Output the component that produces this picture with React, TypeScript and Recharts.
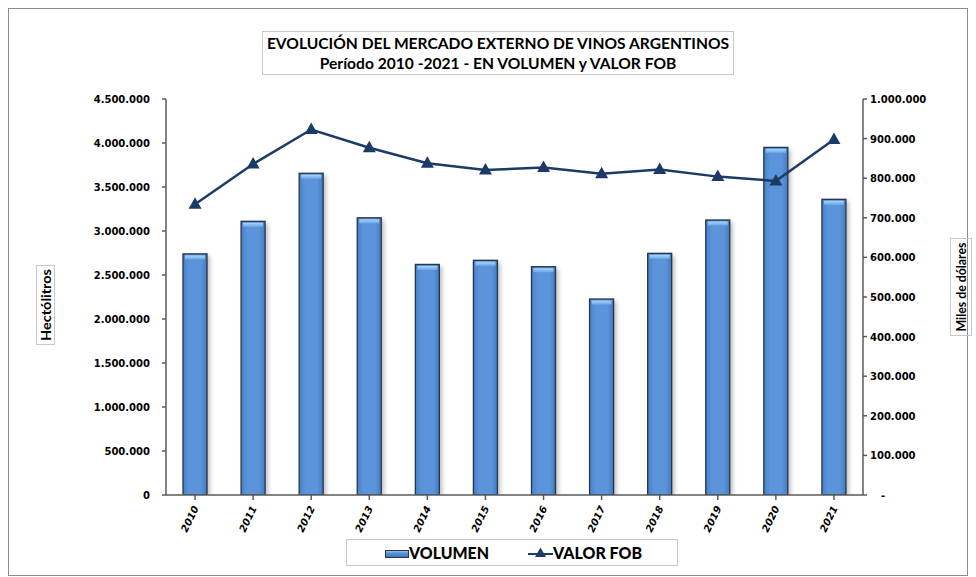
import React from 'react';
import { ComposedChart, Bar, Line, XAxis, YAxis } from 'recharts';

const years = ['2010', '2011', '2012', '2013', '2014', '2015', '2016', '2017', '2018', '2019', '2020', '2021'];
const volumen = [2740000, 3110000, 3656000, 3150000, 2620000, 2667000, 2594000, 2227000, 2746000, 3125000, 3950000, 3360000];
const valorFob = [734000, 836000, 923000, 877000, 838000, 821000, 827000, 811000, 822000, 804000, 793000, 898000];
const leftTicks = [0, 500000, 1000000, 1500000, 2000000, 2500000, 3000000, 3500000, 4000000, 4500000];
const rightTicks = [0, 100000, 200000, 300000, 400000, 500000, 600000, 700000, 800000, 900000, 1000000];

const data = years.map((year, i) => ({ year, volumen: volumen[i], valor: valorFob[i] }));

const fmt = (v: number) => v.toString().replace(/\B(?=(\d{3})+(?!\d))/g, '.');

const tickFont = { fontFamily: 'DejaVu Sans', fontSize: 10, fontWeight: 700, fill: '#000' };
const calibri = "Lato, 'Open Sans', sans-serif";

const BarShape = (props: any) => {
    const { x, y, width, height } = props;
    if (!height || height <= 0) return null;
    return (
        <g>
            <rect x={x + 3} y={y + 2} width={width} height={height} fill="#000" opacity={0.25} filter="url(#blur)" />
            <rect x={x} y={y} width={width} height={height} fill="url(#barGrad)" stroke="#26374d" strokeWidth={1.3} />
            <rect x={x + 2} y={y + 1.5} width={width - 4} height={4} fill="url(#topGrad)" />
        </g>
    );
};

const Triangle = (props: any) => {
    const { cx, cy } = props;
    if (cx == null || cy == null) return null;
    return <path d={`M${cx},${cy - 7} L${cx + 6.5},${cy + 4.5} L${cx - 6.5},${cy + 4.5} Z`} fill="#1b3b66" />;
};

const RightTick = (props: any) => {
    const { x, y, payload } = props;
    const v = payload.value;
    return (
        <text x={v === 0 ? x + 11 : x} y={y} dy={4} textAnchor="start" {...tickFont}>
            {v === 0 ? '-' : fmt(v)}
        </text>
    );
};

const XTick = (props: any) => {
    const { x, y, payload } = props;
    return (
        <text x={x + 4} y={y + 6} textAnchor="end" transform={`rotate(-64, ${x + 4}, ${y + 6})`} {...tickFont} fontStyle="italic">
            {payload.value}
        </text>
    );
};

// legend drawn on its own, positioned like the excel one
const LegendBox = () => (
    <div style={{ position: 'absolute', left: 346, top: 539, width: 332, height: 27, border: '1px solid #c8c8c8', background: '#fff', boxSizing: 'border-box' }}>
        <svg width={330} height={25} style={{ display: 'block' }}>
            <defs>
                <linearGradient id="barGradL" x1="0" y1="0" x2="0" y2="1">
                    <stop offset="0" stopColor="#a9d2f8" />
                    <stop offset="0.35" stopColor="#5b93da" />
                    <stop offset="1" stopColor="#3f72b8" />
                </linearGradient>
            </defs>
            <rect x={38.5} y={10.5} width={23} height={7} fill="url(#barGradL)" stroke="#26374d" />
            <text x={62} y={19} textLength={80} lengthAdjust="spacingAndGlyphs" fontFamily={calibri} fontWeight={900} fontSize={17} fill="#000">VOLUMEN</text>
            <line x1={181} y1={14} x2={206} y2={14} stroke="#1b3b66" strokeWidth={2} />
            <path d="M193.5,7.5 L199,17 L188,17 Z" fill="#1b3b66" />
            <text x={206} y={19} textLength={89} lengthAdjust="spacingAndGlyphs" fontFamily={calibri} fontWeight={900} fontSize={17} fill="#000">VALOR FOB</text>
        </svg>
    </div>
);

export default function App() {
    return (
        <div style={{ position: 'absolute', left: 0, top: 0, width: 976, height: 577, background: '#fff' }}>
            <div style={{ position: 'absolute', left: 8, top: 8, width: 960, height: 568, border: '1px solid #8c8c8c', boxSizing: 'border-box' }} />
            <div style={{ position: 'absolute', left: 262, top: 31, width: 472, height: 44, border: '1px solid #c8c8c8', boxSizing: 'border-box', textAlign: 'center', fontFamily: calibri, fontWeight: 700, fontSize: 15.6, lineHeight: '20px', paddingTop: 1, color: '#000', whiteSpace: 'nowrap' }}>
                EVOLUCIÓN DEL MERCADO EXTERNO DE VINOS ARGENTINOS
                <br />
                Período 2010 -2021 - EN VOLUMEN y VALOR FOB
            </div>
            <div style={{ position: 'absolute', left: 36, top: 265, width: 19, height: 80, border: '1px solid #c8c8c8', boxSizing: 'border-box' }}>
                <svg width={17} height={78} style={{ display: 'block', overflow: 'visible' }}>
                    <text x={13.5} y={39} transform="rotate(-90, 13.5, 39)" textAnchor="middle" textLength={72} lengthAdjust="spacingAndGlyphs" fontFamily={calibri} fontWeight={700} fontSize={14} fill="#000">Hectólitros</text>
                </svg>
            </div>
            <div style={{ position: 'absolute', left: 950, top: 238, width: 22, height: 98, border: '1px solid #c8c8c8', boxSizing: 'border-box' }}>
                <svg width={20} height={96} style={{ display: 'block', overflow: 'visible' }}>
                    <text x={15} y={48} transform="rotate(-90, 15, 48)" textAnchor="middle" textLength={89} lengthAdjust="spacingAndGlyphs" fontFamily={calibri} fontWeight={700} fontSize={14} fill="#000">Miles de dólares</text>
                </svg>
            </div>
            <div style={{ position: 'absolute', left: 0, top: 0 }}>
                <ComposedChart width={976} height={577} data={data} margin={{ top: 99, right: 53, left: 96, bottom: 42 }}>
                    <defs>
                        <linearGradient id="barGrad" x1="0" y1="0" x2="1" y2="0">
                            <stop offset="0" stopColor="#4a7fc6" />
                            <stop offset="0.25" stopColor="#5b94db" />
                            <stop offset="0.75" stopColor="#5b94db" />
                            <stop offset="1" stopColor="#4879be" />
                        </linearGradient>
                        <linearGradient id="topGrad" x1="0" y1="0" x2="0" y2="1">
                            <stop offset="0" stopColor="#a8d4fb" />
                            <stop offset="1" stopColor="#6ea6e6" />
                        </linearGradient>
                        <filter id="blur" x="-50%" y="-10%" width="200%" height="120%">
                            <feGaussianBlur stdDeviation="2" />
                        </filter>
                    </defs>
                    <XAxis
                        dataKey="year"
                        height={40}
                        interval={0}
                        tick={<XTick />}
                        tickSize={5}
                        stroke="#5a5a5a"
                        strokeWidth={1.5}
                    />
                    <YAxis
                        yAxisId="left"
                        width={70}
                        domain={[0, 4500000]}
                        ticks={leftTicks}
                        interval={0}
                        tickFormatter={fmt}
                        tick={tickFont}
                        tickSize={4}
                        tickMargin={12}
                        stroke="#5a5a5a"
                        strokeWidth={1.5}
                        allowDataOverflow
                    />
                    <YAxis
                        yAxisId="right"
                        orientation="right"
                        width={60}
                        domain={[0, 1000000]}
                        ticks={rightTicks}
                        interval={0}
                        tick={<RightTick />}
                        tickSize={4}
                        tickMargin={3}
                        stroke="#5a5a5a"
                        strokeWidth={1.5}
                    />
                    <Bar yAxisId="left" dataKey="volumen" name="VOLUMEN" barSize={24} shape={<BarShape />} isAnimationActive={false} />
                    <Line yAxisId="right" dataKey="valor" name="VALOR FOB" stroke="#1b3b66" strokeWidth={2.5} dot={<Triangle />} activeDot={false} isAnimationActive={false} />
                </ComposedChart>
            </div>
            <LegendBox />
        </div>
    );
}
